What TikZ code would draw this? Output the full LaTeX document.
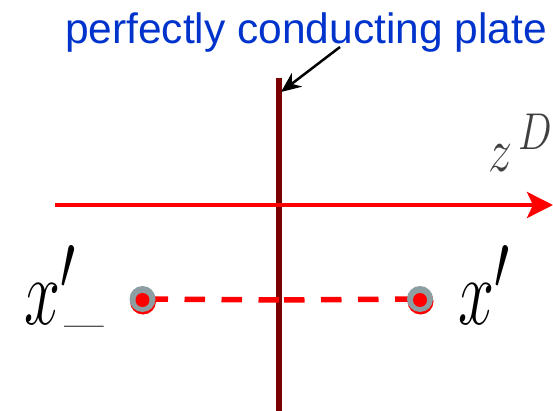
\documentclass[tikz,border=0pt]{standalone}
\usepackage{fontspec}
\newfontfamily\titlefont{Liberation Sans}
\usetikzlibrary{arrows.meta,calc}
\definecolor{titleblue}{RGB}{0,51,204}
\definecolor{platered}{RGB}{122,0,0}
\definecolor{ptgray}{RGB}{140,158,162}
\tikzset{
  titletext/.style={font=\titlefont\fontsize{42.5}{48}\selectfont, text=titleblue, anchor=base, inner sep=0},
  mathlabel/.style={anchor=base west, inner sep=0, font=\Huge},
  pointnode/.style={circle, fill=ptgray, minimum size=26pt, inner sep=0},
  dashline/.style={red, line width=5.5pt, dash pattern=on 20.5pt off 16.5pt},
}
\begin{document}
\begin{tikzpicture}[x=1pt,y=-1pt]
\useasboundingbox (0,0) rectangle (553,411);
% title
\node[titletext] (title) at (306,44) {perfectly conducting plate};
% plate
\coordinate (ptop) at (279,78);
\coordinate (pbot) at (279,411);
\draw[platered, line width=6pt] (ptop) -- (pbot);
% pointer arrow
\coordinate (astart) at (340,47);
\coordinate (atip) at (281,92);
\draw[line width=2.5pt, -{Stealth[length=20pt,width=17pt]}] (astart) -- (atip);
% axis
\coordinate (axL) at (55,205);
\coordinate (axR) at (553,205);
\draw[red, line width=4pt, -{Stealth[length=26pt,width=26pt,inset=6pt]}] (axL) -- (axR);
\node[mathlabel, text=black!75] (zlab) at (488,172) {\scalebox{1.93}[2.5]{$z^{\,D}$}};
% points
\coordinate (xmc) at (142.5,299);
\coordinate (xpc) at (420,299);
\coordinate (mid) at (279,300);
\draw[dashline] (mid) -- (xmc);
\draw[dashline, dash phase=32pt] (mid) -- (xpc);
\fill[red] ($(xmc)+(0.5,2.5)$) circle (13);
\fill[red] ($(xpc)+(0.5,2.5)$) circle (13);
\node[pointnode] (xm) at (xmc) {};
\node[pointnode] (xp) at (xpc) {};
\fill[red] ($(xm)+(0,1)$) circle (7);
\fill[red] ($(xp)+(0,1)$) circle (7);
% labels
\node[mathlabel] (xmlab) at (24,324) {\scalebox{2.6}[3.8]{$x'$}\hspace{-12pt}\raisebox{4pt}{\scalebox{2.3}[2]{\_}}};
\node[mathlabel] (xplab) at (458,324) {\scalebox{2.6}[3.8]{$x'$}};
\end{tikzpicture}
\end{document}
